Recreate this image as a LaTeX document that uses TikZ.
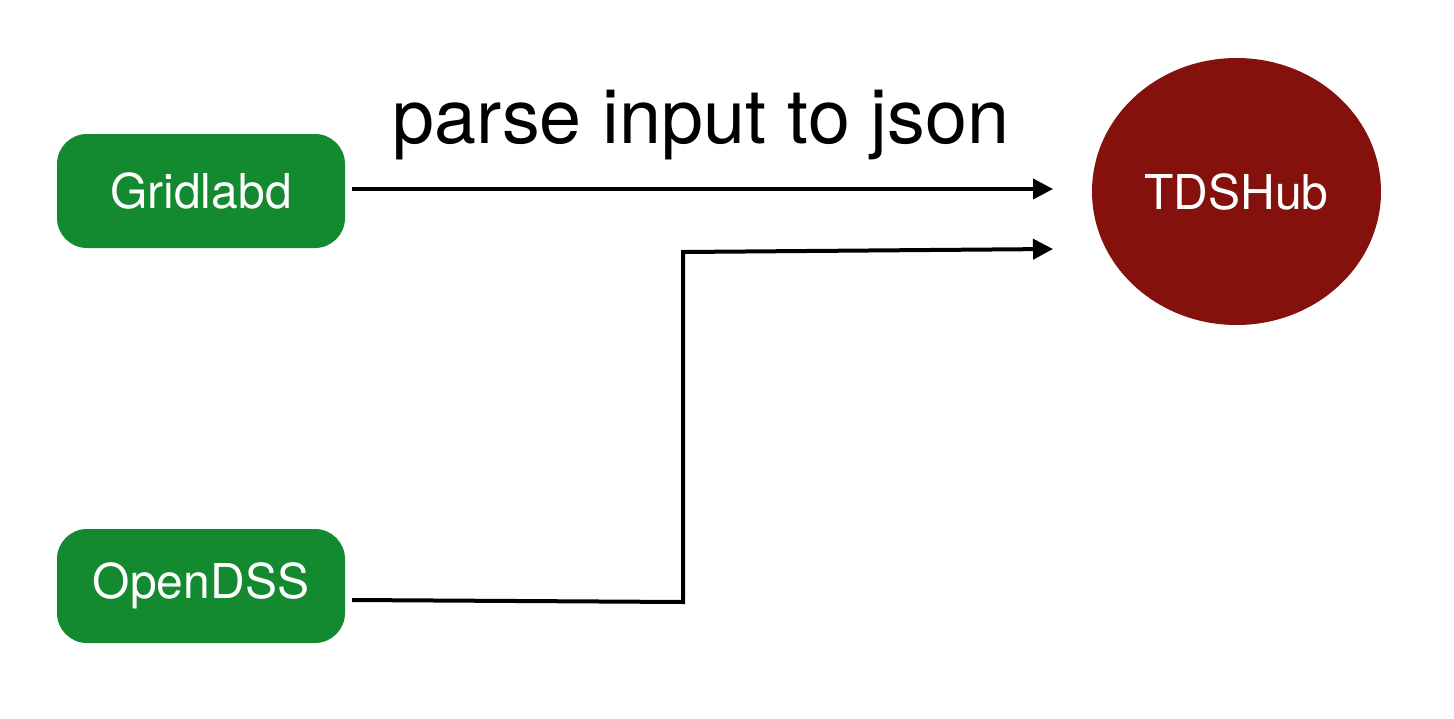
\documentclass[tikz,border=0pt]{standalone}
\usepackage{fontspec}
\setmainfont{TeX Gyre Heros}
\usetikzlibrary{arrows.meta,shapes.geometric}
\definecolor{boxgreen}{HTML}{138A2F}
\definecolor{hubred}{HTML}{85110C}
\tikzset{
  srcbox/.style={draw=none,fill=boxgreen,rounded corners=30pt,minimum width=288pt,minimum height=114pt,text=white,font=\fontsize{48}{56}\selectfont,inner sep=0pt},
  hub/.style={ellipse,fill=hubred,minimum width=289pt,minimum height=267pt,text=white,font=\fontsize{48}{56}\selectfont,inner sep=0pt},
  conn/.style={line width=4pt,-{Triangle[length=20pt,width=20pt]}},
}
\begin{document}
\begin{tikzpicture}[x=1pt,y=-1pt]
\useasboundingbox (0,0) rectangle (1454,718);
\node[srcbox] (grid) at (201,191) {Gridlabd};
\node[srcbox] (dss) at (201,586) {OpenDSS};
\node[hub] (hub) at (1236.5,191.5) {TDSHub};
\coordinate (in1) at (1053,189);
\coordinate (in2) at (1053,249);
\coordinate (c1) at (683,602);
\coordinate (c2) at (683,252);
\draw[conn] ([xshift=7pt]grid.east |- in1) -- (in1);
\draw[conn,line join=miter] ([xshift=7pt,yshift=-14pt]dss.east) -- (c1) -- (c2) -- (in2);
\node[anchor=base,font=\fontsize{75.5}{80}\selectfont] (lbl) at (701,143) {parse input to json};
\end{tikzpicture}
\end{document}
